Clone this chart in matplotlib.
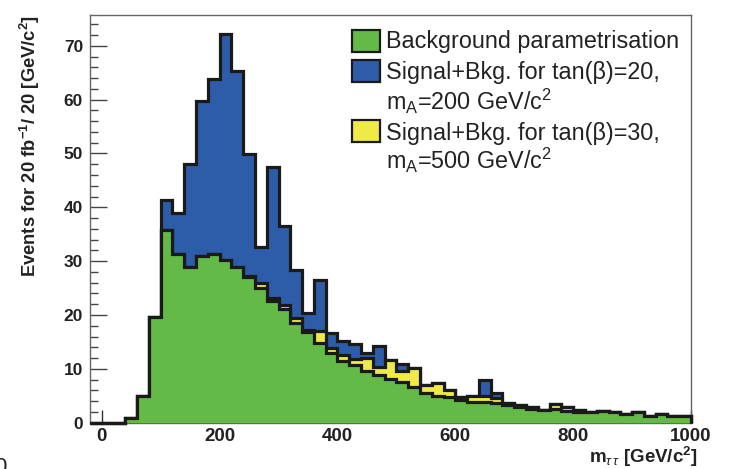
import numpy as np
import matplotlib
matplotlib.use("Agg")
import matplotlib.pyplot as plt
from matplotlib.patches import Rectangle

plt.rcParams["font.family"] = ["Liberation Sans", "DejaVu Sans"]
plt.rcParams["mathtext.fontset"] = "custom"
plt.rcParams["mathtext.rm"] = "Liberation Sans"
plt.rcParams["mathtext.it"] = "Liberation Sans:italic"
plt.rcParams["mathtext.bf"] = "Liberation Sans:bold"

# m_tautau histograms, 20 GeV bins from -20 to 1000 GeV
edges = np.arange(-20, 1001, 20)

bkg = [0, 0, 0, 0.9, 5.0, 19.7, 35.8, 31.3, 29.0, 30.9, 31.4, 30.2, 29.0, 27.1,
       25.1, 22.6, 21.1, 18.6, 16.8, 14.8, 13.0, 11.4, 10.7, 9.6, 8.8, 8.2, 7.5,
       6.6, 5.5, 5.0, 4.7, 4.3, 3.9, 3.9, 3.6, 3.3, 3.0, 2.6, 2.4, 2.5, 2.2, 2.0,
       1.9, 2.1, 1.9, 1.6, 1.9, 1.2, 1.6, 1.2, 1.2]

# signal + background, tan(beta)=30, m_A=500
sig_tb30 = [0, 0, 0, 0.9, 5.0, 19.7, 35.8, 31.3, 29.0, 30.9, 31.4, 30.2, 29.0, 27.3,
            25.9, 23.2, 21.8, 19.4, 17.2, 17.0, 13.8, 12.5, 11.9, 12.0, 10.4, 11.6, 9.6,
            10.1, 7.0, 7.3, 6.0, 4.7, 5.0, 4.9, 4.5, 3.6, 3.3, 3.0, 2.4, 3.5, 2.9, 2.3,
            1.9, 2.1, 1.9, 1.6, 1.9, 1.2, 1.6, 1.2, 1.2]

# signal + background, tan(beta)=20, m_A=200
sig_tb20 = [0, 0, 0, 0.9, 5.0, 19.7, 41.3, 39.0, 48.0, 59.8, 63.9, 72.1, 65.3, 49.9,
            32.7, 47.5, 36.6, 28.3, 20.4, 26.5, 16.7, 15.1, 14.6, 13.0, 14.2, 11.6, 10.9,
            10.1, 7.0, 7.3, 6.0, 4.7, 5.0, 7.9, 5.6, 3.6, 3.3, 3.0, 2.4, 3.5, 2.9, 2.3,
            1.9, 2.1, 1.9, 1.6, 1.9, 1.2, 1.6, 1.2, 1.2]

c_green = "#64BA46"
c_blue = "#2D5DA9"
c_yellow = "#EFEA47"

fig = plt.figure(figsize=(7.31, 4.69), dpi=100)
ax = fig.add_axes([0.1231, 0.0987, 0.8222, 0.8693])

# tallest first so each smaller one sits on top
for vals, col in [(sig_tb20, c_blue), (sig_tb30, c_yellow), (bkg, c_green)]:
    ax.stairs(vals, edges, fill=True, facecolor=col, linewidth=0, zorder=3)
    ax.stairs(vals, edges, fill=False, edgecolor="#1a1a1a", linewidth=2.3,
              zorder=3, clip_on=False)

ax.set_xlim(-20, 1000)
ax.set_ylim(0, max(sig_tb20) * 1.05)

ax.set_xticks([0, 200, 400, 600, 800, 1000])
ax.set_yticks(np.arange(0, 71, 10))
ax.set_yticks(np.arange(0, 76, 2), minor=True)
ax.tick_params(axis="y", which="major", direction="in", length=12.5, width=1,
               color="#444444", pad=5, labelsize=12.5)
ax.tick_params(axis="y", which="minor", direction="in", length=6, width=1,
               color="#444444")
ax.tick_params(axis="x", which="major", direction="in", length=9.5, width=1,
               color="#333333", pad=3.5, labelsize=13.5)
for lab in ax.get_xticklabels() + ax.get_yticklabels():
    lab.set_fontweight("bold")
    lab.set_color("#222222")

for side in ["top", "right", "left", "bottom"]:
    ax.spines[side].set_color("#666666")
    ax.spines[side].set_linewidth(1.0)

fig.text(30 / 731, 1 - 15 / 469,
         r"Events for 20 fb$^{\mathbf{-1}}$/ 20 [GeV/c$^{\mathbf{2}}$]",
         rotation=90, ha="center", va="top", fontsize=13.2, fontweight="bold",
         color="#222222")
fig.text(698 / 731, 1 - 462.5 / 469,
         r"m$_{\tau\,\tau}$ [GeV/c$^{\mathbf{2}}$]",
         ha="right", va="baseline", fontsize=13.5, fontweight="bold", color="#222222")

# legend built by hand: boxes sit on the first line of each entry
box_x, box_w, box_h = 351.7 / 731, 28.3 / 731, 22.3 / 469
for top_px, col in [(30, c_green), (60, c_blue), (120, c_yellow)]:
    fig.add_artist(Rectangle((box_x, 1 - (top_px + 22.3) / 469), box_w, box_h,
                             transform=fig.transFigure, facecolor=col,
                             edgecolor="#1a1a1a", linewidth=1.6))

leg_lines = [
    (48, "Background parametrisation"),
    (79, "Signal+Bkg. for tan(\u03b2)=20,"),
    (110, r"m$_{\mathregular{A}}$=200 GeV/c$^{\mathregular{2}}$"),
    (140, "Signal+Bkg. for tan(\u03b2)=30,"),
    (169, r"m$_{\mathregular{A}}$=500 GeV/c$^{\mathregular{2}}$"),
]
for base_px, txt in leg_lines:
    fig.text(386 / 731, 1 - base_px / 469, txt, ha="left", va="baseline",
             fontsize=16.8, color="#222222")

fig.text(-0.008, -0.02, "0", fontsize=16, ha="left", va="bottom", color="#222222")

fig.savefig("out.png", dpi=100)
